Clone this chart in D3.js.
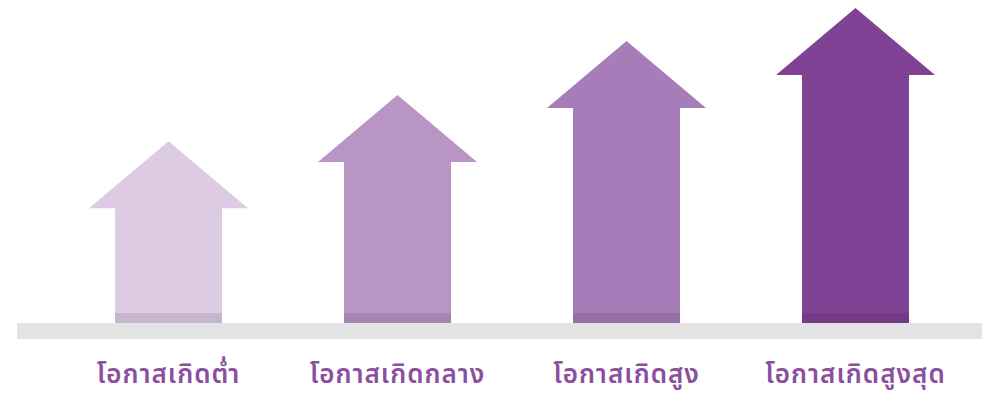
<!DOCTYPE html>
<html><head><meta charset="utf-8">
<script src="https://cdn.jsdelivr.net/npm/d3@7/dist/d3.min.js"></script>
<style>html,body{margin:0;padding:0;background:#fff;}svg{display:block;}</style>
</head><body><svg id="c" width="988" height="395"></svg>
<script>
const categories = ["โอกาสเกิดต่ำ", "โอกาสเกิดกลาง", "โอกาสเกิดสูง", "โอกาสเกิดสูงสุด"];
const values = [56.3, 70.6, 87.3, 97.5];
const colors = ["#dccbe2", "#b995c5", "#a67db8", "#7f4295"];

const svg = d3.select("#c");
const x = d3.scaleBand().domain(categories).range([54, 970]).paddingInner(0).paddingOuter(0);
const y = d3.scaleLinear().domain([0, 100]).range([323, 0]);

const shaftW = 107, headHalf = 79.5, headH = 67;

// baseline bar
svg.append("rect").attr("x", 17).attr("y", y(0)).attr("width", 965).attr("height", 16).attr("fill", "#e3e3e3");

const g = svg.selectAll("g.arrow").data(categories).join("g").attr("class", "arrow");
g.append("path")
  .attr("fill", (d, i) => colors[i])
  .attr("d", (d, i) => {
    const cx = x(d) + x.bandwidth() / 2;
    const top = y(values[i]);
    const base = y(0);
    const hb = top + headH;
    return `M${cx - shaftW/2},${base}L${cx - shaftW/2},${hb}L${cx - headHalf},${hb}L${cx},${top}L${cx + headHalf},${hb}L${cx + shaftW/2},${hb}L${cx + shaftW/2},${base}Z`;
  });
g.append("rect")
  .attr("x", d => x(d) + x.bandwidth() / 2 - shaftW / 2)
  .attr("y", y(0) - 10)
  .attr("width", shaftW).attr("height", 10)
  .attr("fill", "#000").attr("opacity", 0.1);
g.append("text")
  .attr("x", d => x(d) + x.bandwidth() / 2)
  .attr("y", 383)
  .attr("text-anchor", "middle")
  .attr("font-family", "'Noto Sans Thai', 'Noto Sans', 'DejaVu Sans', sans-serif")
  .attr("font-weight", 600)
  .attr("font-size", 26)
  .attr("letter-spacing", 1)
  .attr("fill", "#8a4fa0")
  .text(d => d);
</script></body></html>
